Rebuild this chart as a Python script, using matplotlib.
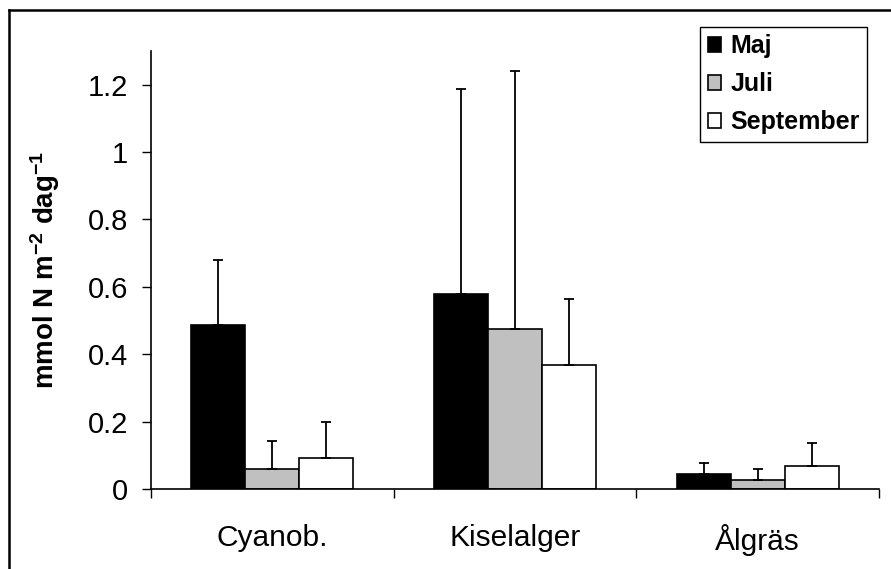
import numpy as np
import matplotlib
matplotlib.use('Agg')
import matplotlib.pyplot as plt
from matplotlib.lines import Line2D

plt.rcParams['font.family'] = ['Liberation Sans', 'DejaVu Sans']
plt.rcParams['mathtext.fontset'] = 'custom'
plt.rcParams['mathtext.rm'] = 'Liberation Sans:bold'
plt.rcParams['mathtext.default'] = 'rm'

# Nitrogen fixation/uptake per group and month (mean + upper SD)
groups = ['Cyanob.', 'Kiselalger', 'Ålgräs']
months = ['Maj', 'Juli', 'September']
maj = [0.487, 0.579, 0.045]
juli = [0.060, 0.475, 0.027]
september = [0.092, 0.368, 0.068]
maj_err = [0.193, 0.608, 0.032]
juli_err = [0.082, 0.765, 0.032]
september_err = [0.107, 0.197, 0.069]

values = [maj, juli, september]
errors = [maj_err, juli_err, september_err]
colors = ['black', '#C0C0C0', 'white']

fig = plt.figure(figsize=(8.91, 5.69), dpi=100)
ax = fig.add_axes([151/891, 1 - 489/569, (879 - 151)/891, (489 - 51)/569])

x = np.arange(len(groups))
width = 1 / 4.5
for i, (vals, errs, c, m) in enumerate(zip(values, errors, colors, months)):
    pos = x + (i - 1) * width
    ax.bar(pos, vals, width, color=c, edgecolor='black', linewidth=1.2,
           label=m, zorder=2)
    ax.errorbar(pos, vals, yerr=[np.zeros(len(vals)), errs], fmt='none',
                ecolor='black', elinewidth=1.3, capsize=3.6, capthick=1.3,
                zorder=3)

ax.set_xlim(-0.5, len(groups) - 0.5)
ax.set_ylim(0, 1.3)
ax.set_yticks([0, 0.2, 0.4, 0.6, 0.8, 1.0, 1.2])
ax.set_yticklabels(['0', '0.2', '0.4', '0.6', '0.8', '1', '1.2'], fontsize=21)
ax.set_xticks(x)
ax.set_xticklabels(groups, fontsize=21.5)
ax.set_xticks(np.arange(-0.5, len(groups)), minor=True)
ax.tick_params(axis='x', which='major', length=0, pad=25)
ax.tick_params(axis='x', which='minor', length=6.5, width=1, direction='out')
ax.tick_params(axis='y', length=6.5, width=1, direction='out', pad=10)

for s in ['top', 'right']:
    ax.spines[s].set_visible(False)
for s in ['left', 'bottom']:
    ax.spines[s].set_linewidth(1.2)

fig.text(45/891, 1 - 270/569, r'mmol N m$^{-2}$ dag$^{-1}$', rotation=90,
         fontsize=20, fontweight='bold', ha='center', va='center')

leg = fig.legend(loc='upper right', bbox_to_anchor=(867/891, 1 - 27/569),
                 borderaxespad=0, fancybox=False, framealpha=1,
                 edgecolor='black', prop={'weight': 'bold', 'size': 18},
                 handlelength=0.55, handleheight=0.55, handletextpad=0.35,
                 labelspacing=0.55, borderpad=0.3)
leg.get_frame().set_linewidth(1.0)

# outer chart border (left and top edges)
fig.add_artist(Line2D([9/891, 9/891], [0, 1 - 10/569], transform=fig.transFigure,
                      color='black', linewidth=1.8))
fig.add_artist(Line2D([9/891, 1], [1 - 10/569, 1 - 10/569], transform=fig.transFigure,
                      color='black', linewidth=1.8))

fig.savefig('out.png', dpi=100)
